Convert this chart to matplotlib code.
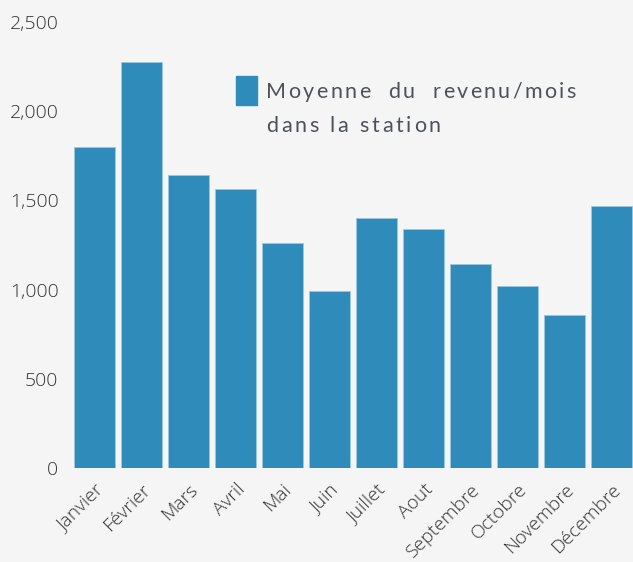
import matplotlib
matplotlib.use("Agg")
from matplotlib import pyplot as plt
from matplotlib.patches import Rectangle

months = ["Janvier", "Février", "Mars", "Avril", "Mai", "Juin", "Juillet",
          "Aout", "Septembre", "Octobre", "Novembre", "Décembre"]
revenue = [1800, 2275, 1640, 1565, 1260, 990, 1400, 1340, 1145, 1020, 860, 1470]
y_ticks = [0, 500, 1000, 1500, 2000, 2500]
y_labels = ["0", "500", "1,000", "1,500", "2,000", "2,500"]
legend_lines = ["Moyenne  du  revenu/mois", "dans la station"]

bg = "#f5f5f5"
bar_color = "#2e8bba"
W, H = 633, 562


def spaced_text(fig, x0, y0, s, target_w, **kw):
    # draw text char by char, spread so that it fills target_w pixels
    r = fig.canvas.get_renderer()

    def width(t):
        tt = fig.text(0, 0, t + "|", **kw)
        w = tt.get_window_extent(r).width
        tt.remove()
        return w

    bar_w = width("")
    offs = [width(s[:i]) - bar_w for i in range(len(s) + 1)]
    extra = (target_w - offs[-1]) / max(len(s) - 1, 1)
    for i, ch in enumerate(s):
        if ch == " ":
            continue
        fig.text((x0 + offs[i] + i * extra) / W, 1 - y0 / H, ch,
                 va="baseline", **kw)


fig = plt.figure(figsize=(W / 100, H / 100), dpi=100, facecolor=bg)
ax = fig.add_axes([71 / W, 94 / H, 564 / W, 446 / H], facecolor=bg)

x = range(len(months))
ax.bar(x, revenue, width=0.87, color=bar_color, edgecolor="#9cc8df", linewidth=0.6)

ax.set_xlim(-0.5, 11.5)
ax.set_ylim(0, 2500)
ax.set_yticks(y_ticks)
ax.set_yticklabels(y_labels, fontfamily="Open Sans", fontweight="light",
                   fontsize=14, color="#333333")
ax.set_xticks(list(x))
ax.set_xticklabels(months, rotation=45, ha="right", rotation_mode="anchor",
                   fontfamily="Open Sans", fontweight="light",
                   fontsize=13.8, color="#333333")
ax.tick_params(axis="both", length=0)
ax.tick_params(axis="y", pad=9)
ax.tick_params(axis="x", pad=9)
for s in ax.spines.values():
    s.set_visible(False)

# legend drawn by hand
fig.patches.append(Rectangle((236 / W, 1 - 105 / H), 21 / W, 29 / H,
                             transform=fig.transFigure, color=bar_color))
style = dict(fontfamily="Lato", fontsize=15.5, color="#4d5259")
spaced_text(fig, 266, 98, legend_lines[0], 310, **style)
spaced_text(fig, 266, 132, legend_lines[1], 175, **style)

plt.savefig("out.png", dpi=100, facecolor=bg)
